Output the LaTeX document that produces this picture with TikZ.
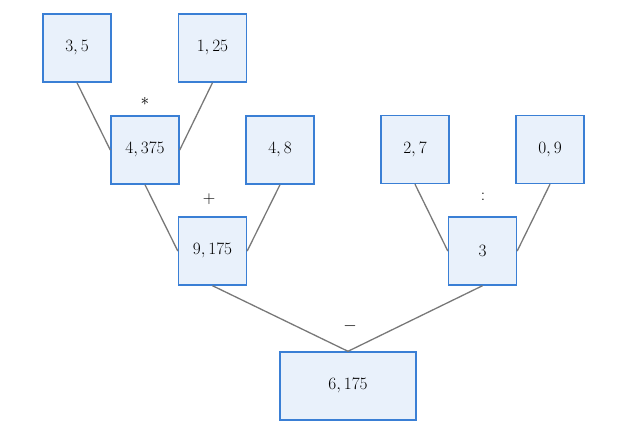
\documentclass[tikz,border=0pt]{standalone}
\begin{document}
\begin{tikzpicture}[x=1pt,y=-1pt,
  valbox/.style={draw=boxblue, fill=boxfill, line width=1.4pt, minimum width=68pt, minimum height=68pt, inner sep=0pt, font=\fontsize{17.5}{20}\selectfont},
  conn/.style={draw=linegray, line width=1.3pt},
  op/.style={font=\fontsize{17.5}{20}\selectfont, inner sep=0pt}]
\definecolor{boxblue}{HTML}{3A7FD5}
\definecolor{boxfill}{HTML}{E9F1FB}
\definecolor{linegray}{HTML}{787878}
\useasboundingbox (0,0) rectangle (640,442);
\node[valbox] (a) at (77,48) {$3,5$};
\node[valbox] (b) at (212.5,48) {$1,25$};
\node[valbox] (c) at (145,150) {$4,375$};
\node[valbox] (d) at (280,150) {$4,8$};
\node[valbox] (e) at (212.5,251) {$9,175$};
\node[valbox] (f) at (415,149.5) {$2,7$};
\node[valbox] (g) at (550,149.5) {$0,9$};
\node[valbox] (h) at (482.5,251) {$3$};
\node[valbox, minimum width=136pt] (r) at (348,386) {$6,175$};
\node[op] (o1) at (145,101) {$*$};
\node[op] (o2) at (209,199) {$+$};
\node[op] (o3) at (483,197) {$:$};
\node[op] (o4) at (350,326) {$-$};
\draw[conn] (a.south) -- (c.west);
\draw[conn] (b.south) -- (c.east);
\draw[conn] (c.south) -- (e.west);
\draw[conn] (d.south) -- (e.east);
\draw[conn] (f.south) -- (h.west);
\draw[conn] (g.south) -- (h.east);
\draw[conn] (e.south) -- (r.north);
\draw[conn] (h.south) -- (r.north);
\end{tikzpicture}
\end{document}
